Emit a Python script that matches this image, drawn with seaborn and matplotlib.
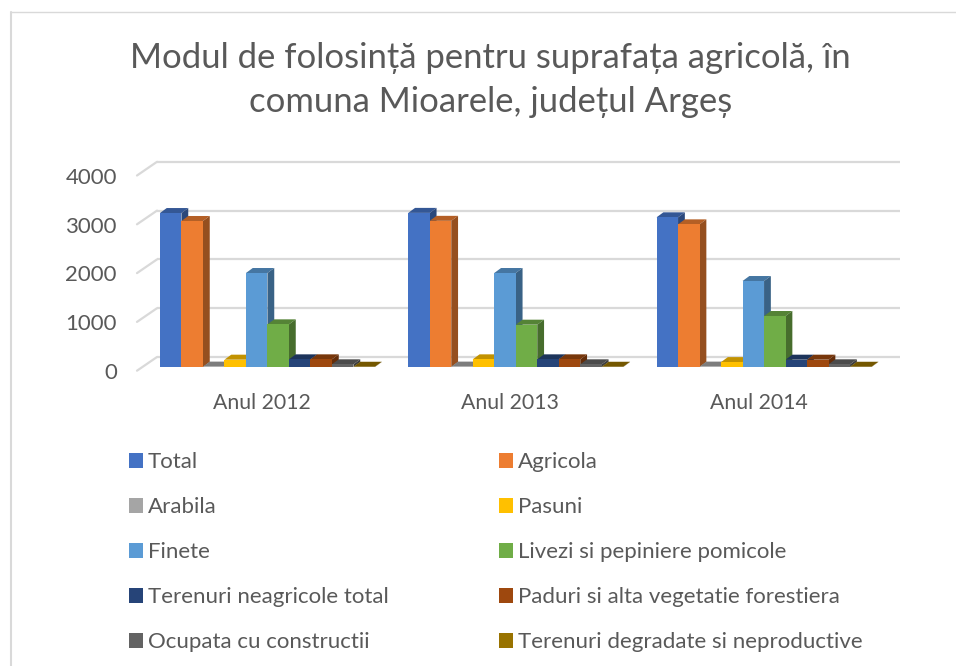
import matplotlib
matplotlib.use('Agg')
import matplotlib.pyplot as plt
from matplotlib.patches import Polygon
from matplotlib.transforms import ScaledTranslation
from matplotlib.colors import to_rgb
import numpy as np
import pandas as pd
import seaborn as sns

years = ['Anul 2012', 'Anul 2013', 'Anul 2014']
series = ['Total', 'Agricola', 'Arabila', 'Pasuni', 'Finete',
          'Livezi si pepiniere pomicole', 'Terenuri neagricole total',
          'Paduri si alta vegetatie forestiera', 'Ocupata cu constructii',
          'Terenuri degradate si neproductive']
colors = ['#4472C4', '#ED7D31', '#A5A5A5', '#FFC000', '#5B9BD5',
          '#70AD47', '#264478', '#9E480E', '#636363', '#997300']

val_2012 = [3155, 2992, 8, 150, 1926, 874, 157, 157, 55, 5]
val_2013 = [3158, 2995, 8, 157, 1926, 867, 157, 157, 55, 5]
val_2014 = [3067, 2923, 8, 100, 1762, 1045, 150, 150, 55, 5]

yticks = [0, 1000, 2000, 3000, 4000]
grey = '#595959'

W, H, dpi = 956, 666, 100

df = pd.DataFrame({
    'an': np.repeat(years, len(series)),
    'serie': series * 3,
    'val': val_2012 + val_2013 + val_2014,
})

sns.set_theme(style='white')
plt.rcParams['font.family'] = ['Lato', 'DejaVu Sans']

fig = plt.figure(figsize=(W / dpi, H / dpi), dpi=dpi)

# plot area: bar plane, 248.3 px per category and 48.8 px per 1000
cat_px, k_px = 248.3, 48.8
left, base = 143.3, 367
ax = fig.add_axes([left / W, 1 - base / H, 3 * cat_px / W, 4.4 * k_px / H])

sns.barplot(data=df, x='an', y='val', hue='serie', hue_order=series,
            palette=colors, saturation=1, width=215 / cat_px, gap=0,
            linewidth=0, ax=ax)
ax.set_xlim(-0.5, 2.5)
ax.set_ylim(0, 4400)
ax.set_xlabel('')
ax.set_ylabel('')
sns.despine(ax=ax, left=True, bottom=True)
ax.patch.set_alpha(0)

# pixel -> data helpers for the fake 3d depth
px = 1 / cat_px
py = 1000 / k_px


def shade(c, f):
    return tuple(v * f for v in to_rgb(c))


# depth of each bar
ddx, ddy = 6.8 * px, 5 * py
for cont, col in zip(ax.containers, colors):
    for bar in cont:
        x0, w, h = bar.get_x(), bar.get_width(), bar.get_height()
        x1 = x0 + w
        top = [(x0, h), (x1, h), (x1 + ddx, h + ddy), (x0 + ddx, h + ddy)]
        side = [(x1, 0), (x1 + ddx, ddy), (x1 + ddx, h + ddy), (x1, h)]
        ax.add_patch(Polygon(top, fc=shade(col, 0.76), lw=0, zorder=3, clip_on=False))
        ax.add_patch(Polygon(side, fc=shade(col, 0.63), lw=0, zorder=3, clip_on=False))
        bar.set_zorder(4)

# gridlines on the back wall and the slanted side wall
grid_c = '#D9D9D9'
for v in yticks:
    back_y = v + 10 * py
    ax.plot([(157 - left) * px - 0.5, (900 - left) * px - 0.5], [back_y, back_y],
            color=grid_c, lw=1.6, zorder=1, clip_on=False, solid_capstyle='butt')
    ax.plot([(137 - left) * px - 0.5, (157 - left) * px - 0.5], [v - 3.7 * py, back_y],
            color=grid_c, lw=1.6, zorder=1, clip_on=False)

# ticks
ax.set_yticks(yticks)
ax.set_xticks(range(3))
ax.set_xticklabels(years)
ax.tick_params(axis='y', length=0, pad=19, labelsize=16, labelcolor=grey)
ax.tick_params(axis='x', length=0, pad=19, labelsize=15.3, labelcolor=grey)
for lab in ax.get_yticklabels():
    lab.set_transform(lab.get_transform() + ScaledTranslation(0, -4 / dpi, fig.dpi_scale_trans))
for lab in ax.get_xticklabels():
    lab.set_transform(lab.get_transform() + ScaledTranslation(-5.5 / dpi, 0, fig.dpi_scale_trans))

# legend, filled row by row as in the original
handles, labels = ax.get_legend_handles_labels()
order = [0, 2, 4, 6, 8, 1, 3, 5, 7, 9]
ax.legend([handles[i] for i in order], [labels[i] for i in order], ncol=2,
          loc='upper left', bbox_to_anchor=(129 / W, 1 - 452.3 / H),
          bbox_transform=fig.transFigure, frameon=False, fontsize=16,
          labelcolor=grey, handlelength=0.63, handleheight=0.63,
          handletextpad=0.23, labelspacing=1.125, columnspacing=4.95, borderpad=0,
          borderaxespad=0)

# title
fig.text(490.5 / W, 1 - 80 / H,
         'Modul de folosință pentru suprafața agricolă, în\ncomuna Mioarele, județul Argeș',
         ha='center', va='center', fontsize=24.9, color=grey, linespacing=1.43)

# chart frame
fig.add_artist(plt.Line2D([11 / W, 11 / W], [0, 1 - 12 / H], color=grid_c, lw=1.5))
fig.add_artist(plt.Line2D([11 / W, 1], [1 - 12 / H, 1 - 12 / H], color=grid_c, lw=1))

fig.savefig('out.png', dpi=dpi)
